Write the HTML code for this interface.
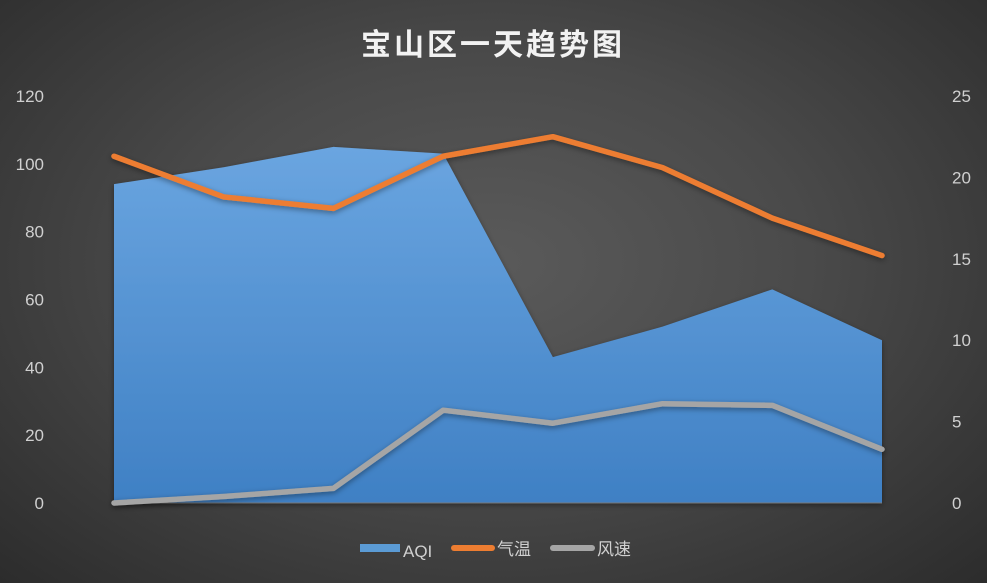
<!DOCTYPE html>
<html><head><meta charset="utf-8"><style>
body{margin:0;width:987px;height:583px;overflow:hidden;background:radial-gradient(ellipse at 50% 45%,#5a5a5a 0%,#4a4a4a 45%,#2c2c2c 100%);font-family:"Liberation Sans","Noto Sans CJK SC",sans-serif;}
svg{position:absolute;left:0;top:0}
</style></head><body>
<svg width="987" height="583">
<defs><linearGradient id="ag" x1="0" y1="0" x2="0" y2="1"><stop offset="0" stop-color="#6aa5e0"/><stop offset="1" stop-color="#3f80c4"/></linearGradient>
<filter id="sh"><feDropShadow dx="0" dy="2" stdDeviation="3" flood-color="#000" flood-opacity="0.4"/></filter></defs>
<text x="493" y="55" text-anchor="middle" fill="#f2f2f2" font-size="30" font-weight="bold" font-family="Liberation Sans,Noto Sans CJK SC,sans-serif" letter-spacing="3">宝山区一天趋势图</text>
<g id="plot"></g>
<g>
<rect x="360" y="544" width="40" height="8" fill="#5b9bd5"/>
<text x="403" y="557" fill="#d0d0d0" font-size="17">AQI</text>
<line x1="454" y1="548" x2="492" y2="548" stroke="#ed7d31" stroke-width="6" stroke-linecap="round"/>
<text x="497" y="555" fill="#d0d0d0" font-size="17">气温</text>
<line x1="553" y1="548" x2="592" y2="548" stroke="#a5a5a5" stroke-width="6" stroke-linecap="round"/>
<text x="597" y="555" fill="#d0d0d0" font-size="17">风速</text>
</g>
</svg>
<script>
const categories=[1,2,3,4,5,6,7,8];
const aqi=[94,99,105,103,43,52,63,48];
const temp=[21.3,18.8,18.1,21.3,22.5,20.6,17.5,15.2];
const wind=[0,0.4,0.9,5.7,4.9,6.1,6.0,3.3];
const leftTicks=[0,20,40,60,80,100,120];
const rightTicks=[0,5,10,15,20,25];
const x0=114,x1=882,yb=503,yt=96;
const xs=i=>x0+(x1-x0)*i/(categories.length-1);
const yl=v=>yb-(yb-yt)*v/120;
const yr=v=>yb-(yb-yt)*v/25;
const g=document.getElementById('plot');
const NS='http://www.w3.org/2000/svg';
function mk(t,a){const e=document.createElementNS(NS,t);for(const k in a)e.setAttribute(k,a[k]);g.appendChild(e);return e;}
leftTicks.forEach(v=>{const t=mk('text',{x:44,y:yl(v)+6,'text-anchor':'end',fill:'#d0d0d0','font-size':17});t.textContent=v;

});
rightTicks.forEach(v=>{const t=mk('text',{x:952,y:yr(v)+6,fill:'#d0d0d0','font-size':17});t.textContent=v;

});
let d='M'+xs(0)+','+yb;aqi.forEach((v,i)=>d+=' L'+xs(i)+','+yl(v));d+=' L'+xs(aqi.length-1)+','+yb+' Z';
const a=mk('path',{d,fill:'url(#ag)',filter:'url(#sh)'});


mk('line',{x1:x0,y1:yb,x2:x1,y2:yb,stroke:'#777','stroke-width':1});
function line(arr,col,name){const p=mk('polyline',{points:arr.map((v,i)=>xs(i)+','+yr(v)).join(' '),fill:'none',stroke:col,'stroke-width':5.5,'stroke-linecap':'round','stroke-linejoin':'round',filter:'url(#sh)'});

}
line(wind,'#a5a5a5','wind-line');
line(temp,'#ed7d31','temp-line');
</script>
</body></html>
